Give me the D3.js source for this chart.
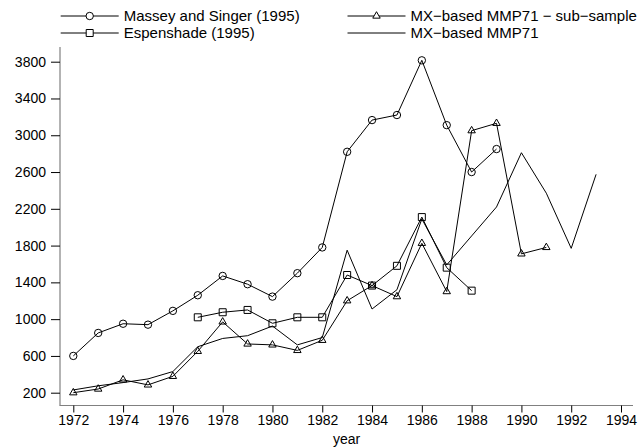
<!DOCTYPE html>
<html>
<head>
<meta charset="utf-8">
<script src="https://cdn.jsdelivr.net/npm/d3@7"></script>
<style>
  body { margin: 0; background: #fff; }
  text { font-family: "Liberation Sans", Arial, sans-serif; fill: #000; }
</style>
</head>
<body>
<div id="chart"></div>
<script>
// values, one array per series
var masseyYears = d3.range(1972, 1990);
var massey = [600, 850, 950, 940, 1090, 1260, 1470, 1380, 1245, 1500,
              1780, 2820, 3165, 3220, 3815, 3110, 2600, 2850];

var espenYears = d3.range(1977, 1989);
var espen = [1020, 1075, 1100, 955, 1020, 1020, 1480, 1365, 1580, 2110, 1560, 1310];

var subYears = d3.range(1972, 1992);
var sub = [200, 240, 340, 285, 378, 650, 970, 730, 720, 660,
           770, 1200, 1365, 1245, 1825, 1300, 3050, 3130, 1710, 1780];

var mmpYears = d3.range(1972, 1994);
var mmp = [230, 275, 310, 350, 430, 700, 790, 820, 925, 720, 800,
           1750, 1110, 1320, 2090, 1590, 1905, 2220, 2810, 2370, 1770, 2575];

var yTicks = [200, 600, 1000, 1400, 1800, 2200, 2600, 3000, 3400, 3800];
var xTicks = d3.range(1972, 1995, 2);

var legendItems = [
    {"label": "Massey and Singer (1995)", "sym": "circle", "col": 0, "row": 0},
    {"label": "MX\u2212based MMP71 \u2212 sub\u2212sample", "sym": "triangle", "col": 1, "row": 0},
    {"label": "Espenshade (1995)", "sym": "square", "col": 0, "row": 1},
    {"label": "MX\u2212based MMP71", "sym": "none", "col": 1, "row": 1}
];

var width = 642, height = 447;

var svg = d3.select("#chart").append("svg")
    .attr("width", width)
    .attr("height", height);

var x = d3.scaleLinear().domain([1972, 1994]).range([73.3, 621]);
var y = d3.scaleLinear().domain([200, 3800]).range([392.7, 61.7]);

// axes lines (Stata style: gray line, black ticks)
svg.append("line")
    .attr("x1", 60).attr("x2", 60)
    .attr("y1", 47).attr("y2", 405.5)
    .attr("stroke", "#808080").attr("stroke-width", 1.2);
svg.append("line")
    .attr("x1", 59.5).attr("x2", 633)
    .attr("y1", 405.5).attr("y2", 405.5)
    .attr("stroke", "#808080").attr("stroke-width", 1.2);

var yAxis = svg.append("g")
    .attr("transform", "translate(60,0)")
    .call(d3.axisLeft(y).tickValues(yTicks).tickSize(9).tickPadding(5)
          .tickFormat(d3.format("d")));
yAxis.select(".domain").remove();
yAxis.selectAll(".tick line").attr("stroke", "#000");
yAxis.selectAll("text")
    .style("font-size", "14px")
    .style("font-family", "Liberation Sans, Arial, sans-serif");

var xAxis = svg.append("g")
    .attr("transform", "translate(0,405.5)")
    .call(d3.axisBottom(x).tickValues(xTicks).tickSize(7).tickPadding(3)
          .tickFormat(d3.format("d")));
xAxis.select(".domain").remove();
xAxis.selectAll(".tick line").attr("stroke", "#000");
xAxis.selectAll("text")
    .style("font-size", "14px")
    .style("font-family", "Liberation Sans, Arial, sans-serif");

svg.append("text")
    .attr("x", (x(1972) + x(1994)) / 2 - 0.5)
    .attr("y", 444)
    .attr("text-anchor", "middle")
    .style("font-size", "14px")
    .text("year");

function toPoints(years, vals) {
    return years.map(function(yr, i) { return {"year": yr, "v": vals[i]}; });
}

var line = d3.line()
    .x(function(d) { return x(d.year); })
    .y(function(d) { return y(d.v); });

var symbols = {
    "circle": d3.symbol().type(d3.symbolCircle).size(Math.PI * 3.7 * 3.7),
    "square": d3.symbol().type(d3.symbolSquare).size(49),
    "triangle": d3.symbol().type(d3.symbolTriangle).size(24)
};

function drawSeries(years, vals, sym) {
    var pts = toPoints(years, vals);
    svg.append("path")
        .datum(pts)
        .attr("d", line)
        .attr("fill", "none")
        .attr("stroke", "#000")
        .attr("stroke-width", 1);
    if (sym == "none") return;
    svg.selectAll(null).data(pts).enter().append("path")
        .attr("transform", function(d) {
            return "translate(" + x(d.year) + "," + y(d.v) + ")";
        })
        .attr("d", symbols[sym])
        .attr("fill", "none")
        .attr("stroke", "#000")
        .attr("stroke-width", 1);
}

drawSeries(mmpYears, mmp, "none");
drawSeries(subYears, sub, "triangle");
drawSeries(espenYears, espen, "square");
drawSeries(masseyYears, massey, "circle");

// legend, two columns by two rows
var colX = [60.7, 347.5];
var rowY = [16, 33];
var keyLen = 58;

var leg = svg.selectAll(".leg").data(legendItems).enter().append("g")
    .attr("class", "leg")
    .attr("transform", function(d) {
        return "translate(" + colX[d.col] + "," + rowY[d.row] + ")";
    });
leg.append("line")
    .attr("x1", 0).attr("x2", keyLen)
    .attr("y1", 0).attr("y2", 0)
    .attr("stroke", "#000").attr("stroke-width", 1);
leg.filter(function(d) { return d.sym != "none"; }).append("path")
    .attr("transform", "translate(" + keyLen / 2 + ",0)")
    .attr("d", function(d) { return symbols[d.sym](); })
    .attr("fill", "#fff")
    .attr("stroke", "#000");
leg.append("text")
    .attr("x", keyLen + 5)
    .attr("y", 0)
    .attr("dy", "0.35em")
    .style("font-size", "15px")
    .text(function(d) { return d.label; });
</script>
</body>
</html>
